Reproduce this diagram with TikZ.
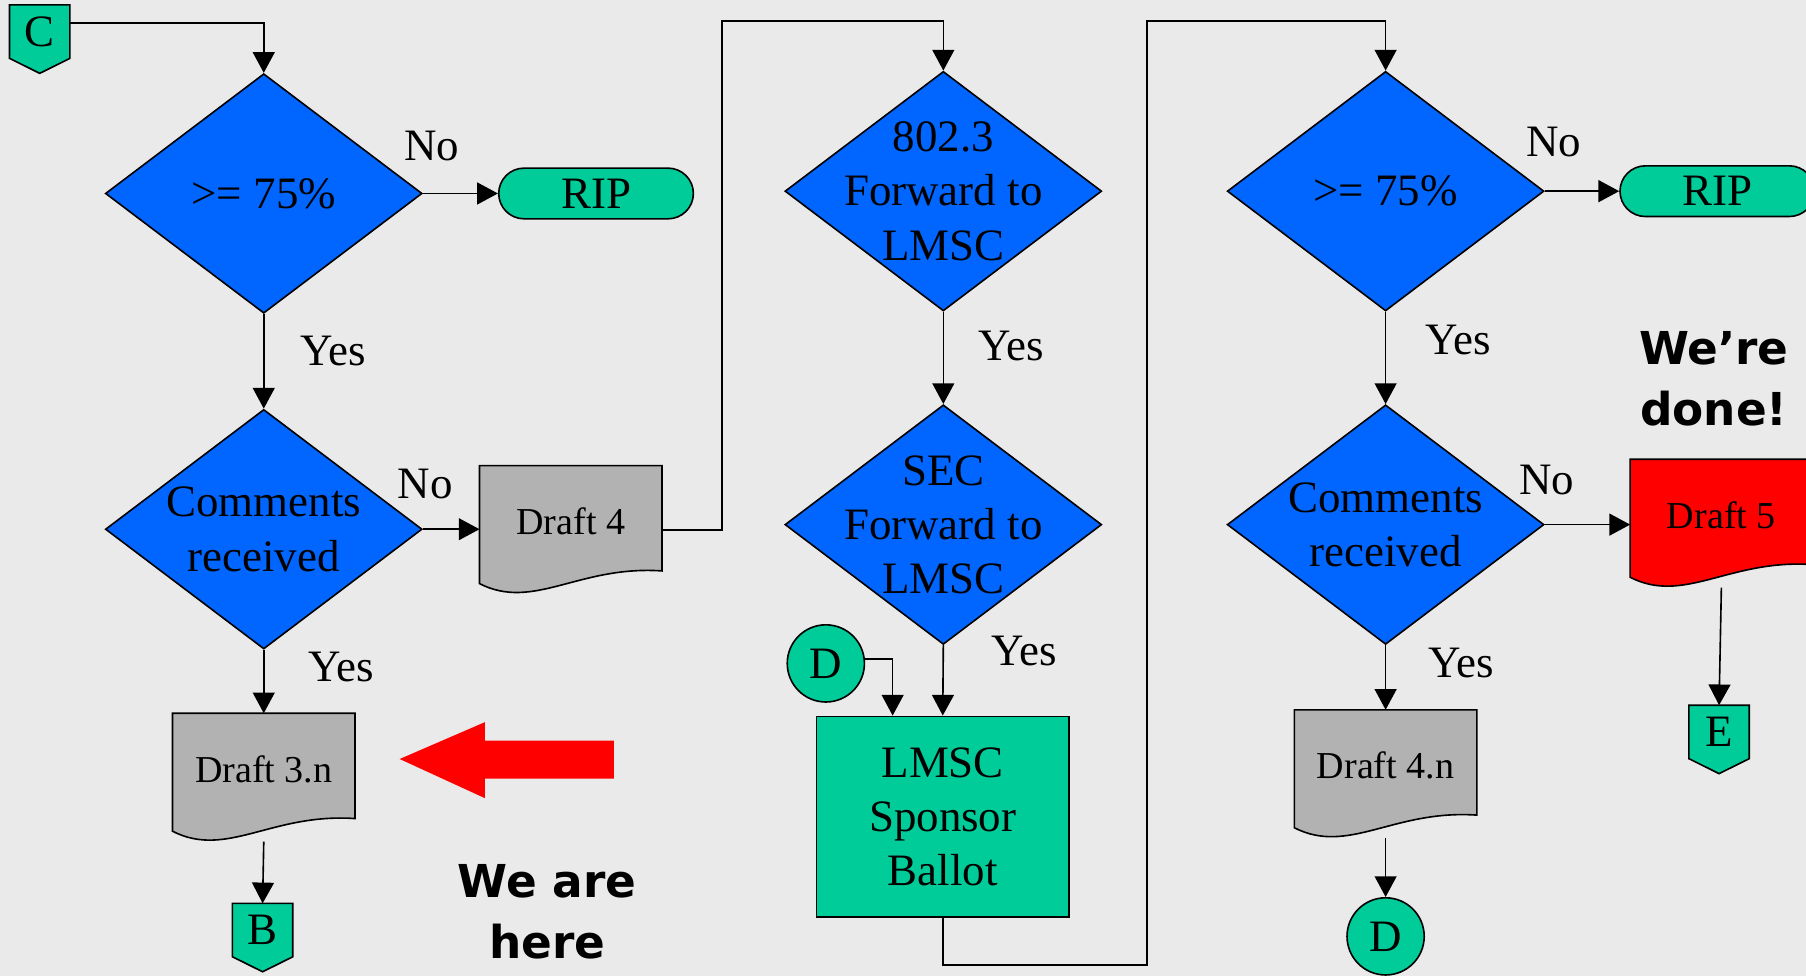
\documentclass[tikz,border=0pt]{standalone}
\usepackage{fontspec}
\setmainfont{Liberation Serif}
\newfontfamily\heavyfont{DejaVu Sans}
\usetikzlibrary{shapes.geometric,arrows.meta}

\definecolor{diamondblue}{RGB}{0,102,255}
\definecolor{tealgreen}{RGB}{0,204,153}
\definecolor{draftgray}{RGB}{178,178,178}
\definecolor{slidegray}{RGB}{234,234,234}

\pgfdeclarelayer{behind}
\pgfsetlayers{behind,main}

\newcommand{\pageoutline}[2]{%
    \begin{pgfonlayer}{behind}
        \filldraw[fill=#2] (#1.north west) -- (#1.north east) -- ([yshift=2mm]#1.south east)
            .. controls ([xshift=8.6mm,yshift=2.5mm]#1.south west) and ([xshift=4.7mm,yshift=-1.5mm]#1.south west)
            .. ([yshift=0.9mm]#1.south west) -- cycle;
    \end{pgfonlayer}}
\newcommand{\offpageoutline}[1]{%
    \begin{pgfonlayer}{behind}
        \filldraw[fill=tealgreen] (#1.north west) -- (#1.north east) -- (#1.south east)
            -- ([yshift=-1.3mm]#1.south) -- (#1.south west) -- cycle;
    \end{pgfonlayer}}

\begin{document}
\begin{tikzpicture}[
        font=\fontsize{11.1}{13.4}\selectfont,
        line width=0.45pt,
        flow/.style={-{Triangle[length=1.8mm,width=1.9mm]}},
        decision/.style={diamond, draw, fill=diamondblue, minimum width=2.75cm, minimum height=2.08cm, inner sep=-3mm, align=center},
        terminal/.style={rectangle, rounded corners=2.2mm, draw, fill=tealgreen, minimum width=1.69cm, minimum height=0.44cm, inner sep=0pt},
        docpage/.style={rectangle, minimum width=1.57cm, minimum height=1.10cm, text depth=1.5mm, inner sep=0pt, font=\fontsize{9.4}{11}\selectfont},
        offpage/.style={rectangle, minimum width=0.51cm, minimum height=0.45cm, inner sep=0pt},
        joint/.style={circle, draw, fill=tealgreen, minimum size=0.67cm, inner sep=0pt},
        process/.style={rectangle, draw, fill=tealgreen, minimum width=2.19cm, minimum height=1.74cm, align=center},
        answer/.style={inner sep=0pt},
        banner/.style={align=center, font=\heavyfont\bfseries\fontsize{11.2}{15.1}\selectfont}
    ]
        \useasboundingbox (0,0) rectangle (15.68,8.47);
        \begin{pgfonlayer}{behind}
            \fill[slidegray] (0,0) rectangle (15.68,8.47);
        \end{pgfonlayer}

        \node[offpage] (cpage) at (0.345,8.195) {C};
        \offpageoutline{cpage}
        \node[decision] (d1) at (2.29,6.79) {>= 75\%};
        \node[terminal] (rip1) at (5.175,6.79) {RIP};
        \node[decision] (d2) at (2.29,3.875) {Comments\\received};
        \node[docpage] (draft4) at (4.955,3.87) {Draft 4};
        \pageoutline{draft4}{draftgray}
        \node[docpage] (draft3n) at (2.29,1.72) {Draft 3.n};
        \pageoutline{draft3n}{draftgray}
        \node[offpage] (bpage) at (2.28,0.395) {B};
        \offpageoutline{bpage}

        \node[decision] (d3) at (8.19,6.81) {802.3\\Forward to\\LMSC};
        \node[decision] (d4) at (8.19,3.915) {SEC\\Forward to\\LMSC};
        \node[process] (lmsc) at (8.185,1.38) {LMSC\\Sponsor\\Ballot};
        \node[joint] (dleft) at (7.17,2.71) {D};

        \node[decision] (d5) at (12.03,6.81) {>= 75\%};
        \node[terminal] (rip2) at (14.91,6.81) {RIP};
        \node[decision] (d6) at (12.03,3.915) {Comments\\received};
        \node[docpage] (draft5) at (14.945,3.925) {Draft 5};
        \pageoutline{draft5}{red}
        \node[offpage] (epage) at (14.925,2.115) {E};
        \offpageoutline{epage}
        \node[docpage] (draft4n) at (12.03,1.75) {Draft 4.n};
        \pageoutline{draft4n}{draftgray}
        \node[joint] (dright) at (12.03,0.34) {D};

        \node[answer] (no1) at (3.75,7.20) {No};
        \node[answer] (yes1) at (2.89,5.42) {Yes};
        \node[answer] (no2) at (3.69,4.27) {No};
        \node[answer] (yes2) at (2.96,2.68) {Yes};
        \node[answer] (yes3) at (8.78,5.47) {Yes};
        \node[answer] (yes4) at (8.89,2.82) {Yes};
        \node[answer] (no5) at (13.49,7.24) {No};
        \node[answer] (yes5) at (12.66,5.52) {Yes};
        \node[answer] (no6) at (13.43,4.30) {No};
        \node[answer] (yes6) at (12.69,2.71) {Yes};

        \node[banner] (herenote) at (4.75,0.555) {We are\\here};
        \node[banner] (donenote) at (14.88,5.18) {We’re\\done!};
        \fill[red] (3.47,1.88) -- (4.21,2.20) -- (4.21,2.04) -- (5.33,2.04) -- (5.33,1.71) -- (4.21,1.71) -- (4.21,1.54) -- cycle;

        \coordinate (hop1) at (6.27,8.29);
        \coordinate (hop2) at (9.96,0.09);
        \coordinate (hop3) at (9.96,8.29);
        \draw[flow] ([yshift=0.75mm]cpage.east) -| (d1.north);
        \draw[flow] (d1.east) -- (rip1.west);
        \draw[flow] (d1.south) -- (d2.north);
        \draw[flow] (d2.east) -- (d2.east -| draft4.west);
        \draw[flow] (d2.south) -- (draft3n.north);
        \draw[flow] (draft3n.south) -- (bpage.north);
        \draw[flow] (draft4.east) -| (hop1) -| (d3.north);
        \draw[flow] (d3.south) -- (d4.north);
        \draw[flow] (d4.south) -- (lmsc.north);
        \draw[flow] ([yshift=0.4mm]dleft.east) -| ([xshift=-4.35mm]lmsc.north);
        \draw[flow] (lmsc.south) |- (hop2) -- (hop3) -| (d5.north);
        \draw[flow] (d5.east) -- (rip2.west);
        \draw[flow] (d5.south) -- (d6.north);
        \draw[flow] (d6.east) -- (d6.east -| draft5.west);
        \draw[flow] (d6.south) -- (draft4n.north);
        \draw[flow] (draft4n.south) -- (dright.north);
        \draw[flow] (draft5.south) -- (epage.north);
\end{tikzpicture}
\end{document}
